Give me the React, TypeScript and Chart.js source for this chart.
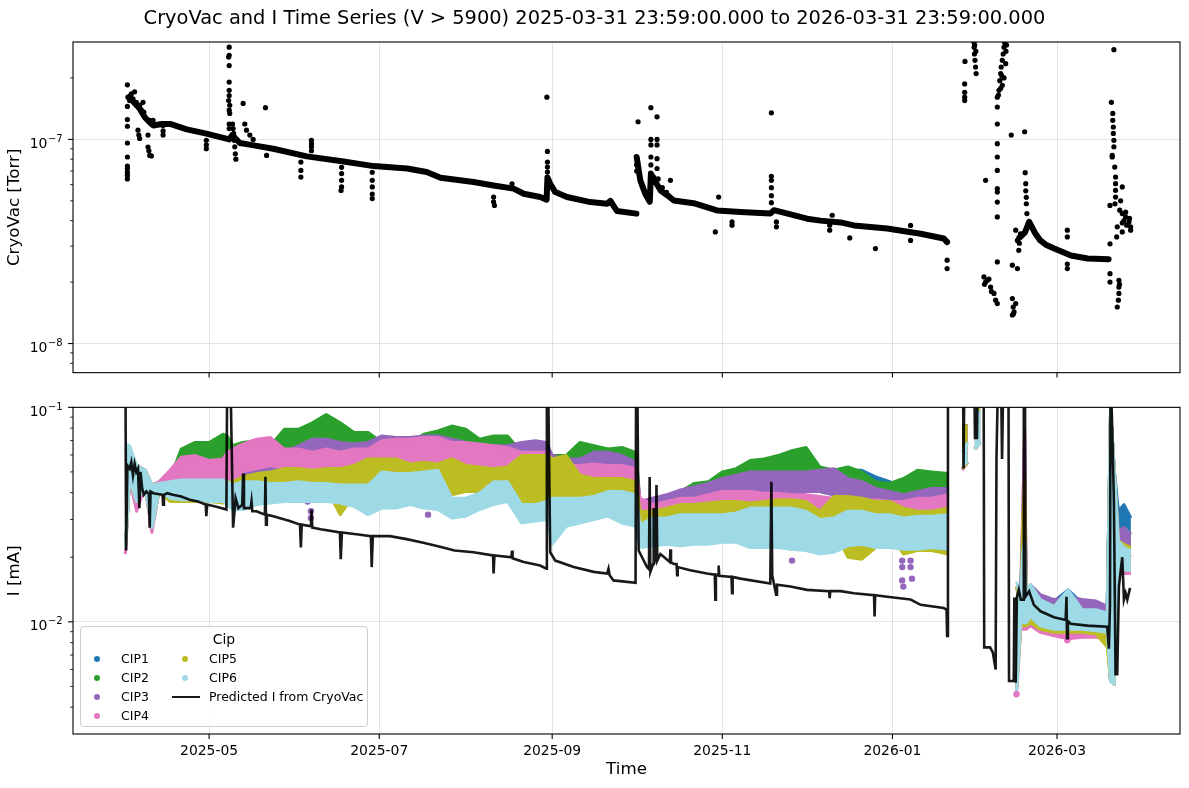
import { useEffect, useRef } from 'react';
import { Chart, registerables } from 'chart.js';

Chart.register(...registerables);

const FONT = "'DejaVu Sans', 'Liberation Sans', sans-serif";
const GRID = 'rgba(0,0,0,0.1)';

// x values: days since 2025-01-01
const X_MIN = 71.2;
const X_MAX = 468.1;
const MONTH_TICKS = [120, 181, 243, 304, 365, 424];
const MONTH_LABELS = ['2025-05', '2025-07', '2025-09', '2025-11', '2026-01', '2026-03'];

const TOP_Y_MIN = 7.2e-9;
const TOP_Y_MAX = 3.0e-7;
const TOP_Y_TICKS = [8e-9, 9e-9, 1e-8, 2e-8, 3e-8, 4e-8, 5e-8, 6e-8, 7e-8, 8e-8, 9e-8, 1e-7, 2e-7];
const BOT_Y_MIN = 3.0e-3;
const BOT_Y_MAX = 0.1;
const BOT_Y_TICKS = [4e-3, 5e-3, 6e-3, 7e-3, 8e-3, 9e-3, 1e-2, 2e-2, 3e-2, 4e-2, 5e-2, 6e-2, 7e-2, 8e-2, 9e-2, 1e-1];

// ---------- CryoVac [Torr] ----------
const CRYO_TREND: [number, number | null][] = [
  [91.5, 1.62e-7], [93, 1.52e-7], [95, 1.42e-7], [97, 1.28e-7], [99, 1.2e-7], [100, 1.17e-7],
  [103, 1.19e-7], [106, 1.19e-7], [112, 1.12e-7], [119, 1.067e-7], [127.2, 1.0e-7], [128.3, 1.05e-7],
  [131, 9.6e-8], [135, 9.4e-8], [143, 9.0e-8], [155, 8.26e-8], [167, 7.83e-8], [179, 7.4e-8],
  [191, 7.2e-8], [198, 6.92e-8], [203, 6.49e-8], [214.8, 6.18e-8], [222, 5.95e-8], [229.2, 5.74e-8],
  [232.8, 5.42e-8], [238.7, 5.22e-8], [241, 5.07e-8], [241.3, 6.5e-8], [242.3, 6.06e-8], [244.1, 5.52e-8],
  [248.3, 5.22e-8], [256.7, 4.93e-8], [262.7, 4.84e-8], [263.9, 5.0e-8], [266.2, 4.46e-8], [273.2, 4.33e-8],
  [273.25, null],
  [273.3, 8.2e-8], [274.6, 6.3e-8], [276.4, 5.4e-8], [278.0, 4.95e-8], [278.4, 6.8e-8], [280, 6.2e-8],
  [282, 5.6e-8], [284.5, 5.3e-8], [286.6, 5.02e-8], [293.7, 4.87e-8], [302.1, 4.49e-8], [310.5, 4.41e-8],
  [321.2, 4.33e-8], [322.5, 4.5e-8], [334.4, 4.09e-8], [339.2, 4.0e-8], [346.4, 3.92e-8], [351.2, 3.79e-8],
  [363.1, 3.66e-8], [375.1, 3.45e-8], [383.4, 3.27e-8], [384.6, 3.14e-8],
  [386, null],
  [410.5, 3.3e-8], [412.5, 3.5e-8], [414, 3.95e-8], [416, 3.5e-8], [418, 3.2e-8], [420, 3.05e-8],
  [423, 2.92e-8], [429, 2.7e-8], [435, 2.61e-8], [442.5, 2.59e-8],
];

const CRYO_PTS: [number, number][] = [
  [90.7, 1.85e-7], [90.7, 1.45e-7], [90.7, 1.25e-7], [90.7, 1.16e-7], [90.7, 9.6e-8], [90.7, 8.2e-8],
  [90.7, 7.4e-8], [90.7, 7.18e-8], [90.7, 6.9e-8], [90.7, 6.67e-8], [90.7, 6.4e-8],
  [90.9, 1.61e-7], [91.5, 1.55e-7], [92.1, 1.67e-7], [93.3, 1.71e-7], [92.7, 1.58e-7], [93.9, 1.52e-7],
  [95.1, 1.47e-7], [96.3, 1.52e-7], [95.7, 1.39e-7], [96.6, 1.36e-7], [94.5, 1.11e-7], [95.1, 1.01e-7],
  [94.8, 1.05e-7], [98.1, 1.05e-7], [98.1, 9.17e-8], [98.7, 8.35e-8], [99.3, 8.3e-8], [98.4, 8.8e-8],
  [98.7, 1.24e-7], [99.9, 1.24e-7], [103.5, 1.05e-7], [103.5, 1.17e-7], [103.5, 1.1e-7],
  [119, 9.9e-8], [119, 9.0e-8], [119, 9.4e-8],
  [127.2, 2.83e-7], [127.2, 2.58e-7], [127.0, 2.53e-7], [127.2, 2.3e-7], [127.2, 1.91e-7], [127.2, 1.74e-7],
  [127.2, 1.64e-7], [127.0, 1.55e-7], [127.4, 1.47e-7], [127.2, 1.39e-7], [127.4, 1.34e-7], [127.2, 1.19e-7],
  [127.2, 1.13e-7], [128.4, 1.19e-7], [128.6, 1.13e-7], [128.8, 1.07e-7], [129.0, 9.9e-8], [129.2, 9.2e-8],
  [129.4, 8.5e-8], [129.6, 8.0e-8],
  [132.2, 1.5e-7], [132.8, 1.19e-7], [133.4, 1.11e-7], [134.6, 1.05e-7], [135.8, 1.0e-7], [140.2, 1.43e-7],
  [140.6, 8.35e-8],
  [152.9, 7.74e-8], [152.9, 7.05e-8], [152.9, 6.54e-8],
  [156.7, 9.9e-8], [156.7, 9.5e-8], [156.7, 9.2e-8], [156.7, 8.8e-8],
  [167.5, 7.3e-8], [167.5, 6.8e-8], [167.5, 6.3e-8], [167.5, 5.85e-8], [167.3, 5.62e-8],
  [178.5, 6.9e-8], [178.5, 6.3e-8], [178.5, 5.85e-8], [178.5, 5.4e-8], [178.5, 5.13e-8],
  [222, 5.22e-8], [222, 4.95e-8], [222.3, 4.75e-8], [228.6, 6.06e-8],
  [241.1, 1.61e-7], [241.3, 8.73e-8], [241.3, 7.74e-8], [241.3, 7.32e-8], [241.3, 6.92e-8],
  [273.8, 1.22e-7], [273.3, 7.5e-8], [273.3, 7.0e-8],
  [278.4, 1.43e-7], [280.6, 1.29e-7], [278.4, 1.0e-7], [280.6, 1.0e-7], [278.4, 9.4e-8], [280.6, 9.4e-8],
  [278.4, 8.2e-8], [280.6, 8.05e-8], [278.4, 7.5e-8], [280.6, 7.2e-8],
  [279.5, 6.5e-8], [281, 6.4e-8], [282.5, 5.8e-8], [284, 5.5e-8], [285.4, 6.3e-8],
  [301.5, 3.52e-8], [302.7, 5.22e-8], [307.5, 3.94e-8], [307.5, 3.8e-8],
  [321.6, 1.35e-7], [321.6, 6.59e-8], [321.6, 6.3e-8], [321.6, 5.8e-8], [321.6, 5.3e-8], [321.6, 4.9e-8],
  [323.4, 3.94e-8], [323.4, 3.73e-8],
  [342.5, 3.59e-8], [342.5, 3.8e-8], [343.4, 4.25e-8], [349.7, 3.29e-8], [358.9, 2.92e-8],
  [371.5, 3.79e-8], [371.5, 3.2e-8], [384.6, 2.56e-8], [384.6, 2.33e-8],
  [391, 2.41e-7], [390.9, 1.87e-7], [390.9, 1.7e-7], [390.9, 1.61e-7], [390.9, 1.55e-7],
  [394.2, 3.0e-7], [394.3, 2.83e-7], [394.4, 2.62e-7], [394.6, 2.44e-7], [394.8, 2.26e-7], [395.0, 2.1e-7],
  [394.5, 2.9e-7], [394.9, 2.7e-7],
  [398.4, 6.3e-8],
  [397.8, 2.12e-8], [399, 2.04e-8], [400.2, 1.89e-8], [401.4, 1.76e-8], [402, 1.63e-8], [402.6, 1.57e-8],
  [398.4, 2.0e-8], [399.6, 2.07e-8], [398.0, 1.95e-8], [400.5, 1.8e-8],
  [402.6, 2.51e-8], [402.6, 4.17e-8], [402.6, 4.93e-8], [402.6, 5.52e-8], [402.6, 5.74e-8], [402.6, 7.05e-8],
  [402.6, 8.2e-8], [402.6, 9.53e-8], [402.6, 1.19e-7], [402.6, 1.44e-7], [402.6, 1.61e-7],
  [403.2, 1.74e-7], [403.5, 1.94e-7], [403.8, 2.1e-7], [404.0, 2.26e-7], [404.4, 2.44e-7], [404.7, 2.62e-7],
  [405.0, 2.83e-7], [405.2, 2.98e-7], [405.7, 2.7e-7], [405.9, 2.9e-7], [404.4, 1.84e-7], [405.0, 2.0e-7],
  [405.6, 2.35e-7], [403.8, 1.78e-7], [403.0, 1.65e-7], [404.2, 2.05e-7],
  [407.6, 1.05e-7], [412.4, 1.09e-7],
  [408, 1.66e-8], [408.3, 1.51e-8], [408.6, 1.43e-8], [408.0, 1.38e-8], [409.2, 1.57e-8], [408.4, 1.4e-8],
  [408, 2.42e-8], [409.8, 2.33e-8],
  [412.6, 6.87e-8], [412.8, 6.07e-8], [412.8, 5.6e-8], [413, 5.2e-8], [413, 4.84e-8], [413.2, 4.33e-8],
  [409.2, 3.59e-8], [409.8, 3.2e-8], [410.3, 2.86e-8], [410.9, 3.45e-8], [410.5, 3.1e-8],
  [427.7, 3.59e-8], [427.7, 3.33e-8], [427.7, 2.33e-8], [427.7, 2.45e-8],
  [444.4, 2.75e-7], [443.5, 1.52e-7], [444.0, 1.34e-7], [444.0, 1.24e-7], [444.2, 1.15e-7], [444.2, 1.07e-7],
  [444.4, 9.9e-8], [444.4, 9.2e-8], [443.8, 8.35e-8], [443.8, 8.2e-8], [444.7, 7.32e-8], [445.0, 6.54e-8],
  [445.0, 6.07e-8], [445.0, 5.63e-8], [445.0, 5.22e-8], [444.8, 4.84e-8], [443.0, 4.75e-8], [447.4, 5.85e-8],
  [447.4, 4.33e-8], [447.4, 3.9e-8], [447.4, 3.52e-8], [448.6, 4.17e-8], [449.8, 3.94e-8], [450.4, 3.73e-8],
  [450.4, 3.59e-8], [445.6, 3.73e-8], [445.4, 3.33e-8], [443.0, 3.08e-8], [443.0, 2.2e-8], [443.0, 2.0e-8],
  [446.2, 2.04e-8], [446.2, 1.89e-8], [446.2, 1.76e-8], [446.0, 1.63e-8], [445.6, 1.51e-8], [446.4, 1.95e-8],
  [448.0, 4.0e-8], [449, 3.8e-8], [448.6, 4.4e-8], [450, 4.1e-8], [446.5, 4.5e-8], [446.8, 5.0e-8],
];

// ---------- I [mA] : CIP bands (low / high edge per sample day) ----------
const CIP_DAYS = [
  90, 91.5, 94, 97, 99.5, 102, 106, 110, 115, 120,
  125, 126.5, 128.5, 132, 137, 142, 147, 152, 157, 162,
  167, 172, 177, 182, 187, 192, 197, 202, 207, 212,
  217, 222, 227, 232, 237, 241, 243, 248, 253, 258,
  263, 268, 273, 274.5, 279, 284, 289, 294, 299, 304,
  309, 314, 319, 324, 329, 334, 339, 344, 349, 354,
  359, 364, 369, 374, 379, 385, 387, 390, 392, 393,
  394.5, 396.5, 400, 409.5, 411, 411.8, 412.4, 413, 414.5, 418,
  423, 428, 433, 438, 442, 443.2, 444.5, 446, 448, 450.5,
];

const CIP1_HI = [
  0.0639, 0.0617, 0.0536, 0.0509, 0.0434, 0.0442, 0.0466, 0.0500, 0.0527, 0.0518,
  0.0509, 0.0518, 0.0518, 0.0536, 0.0536, 0.0555, 0.0575, 0.0575, 0.0596, 0.0617,
  0.0596, 0.0617, 0.0662, 0.0710, 0.0686, 0.0686, 0.0686, 0.0686, 0.0686, 0.0662,
  0.0639, 0.0639, 0.0639, 0.0555, 0.0575, 0.0575, 0.0575, 0.0555, 0.0555, 0.0575,
  0.0606, 0.0575, 0.0536, 0.0364, 0.0364, 0.0377, 0.0405, 0.0419, 0.0434, 0.0458,
  0.0474, 0.0491, 0.0500, 0.0509, 0.0500, 0.0500, 0.0500, 0.0500, 0.0509, 0.0509,
  0.0474, 0.0450, 0.0419, 0.0405, 0.0405, 0.0405, null, 0.0818, 0.0818, null,
  0.105, 0.105, null, 0.0146, 0.0136, 0.0305, 0.0434, 0.0136, 0.0146, 0.0131,
  0.0125, 0.0141, 0.0122, 0.0122, 0.0118, 0.0976, 0.0518, 0.0328, 0.0352, 0.0305,
];
const CIP1_LO = [
  0.0222, 0.0466, 0.0364, 0.0427, 0.0275, 0.0405, 0.0419, 0.0434, 0.0450, 0.0450,
  0.0450, 0.0450, 0.0434, 0.0450, 0.0450, 0.0466, 0.0466, 0.0466, 0.0482, 0.0482,
  0.0482, 0.0500, 0.0518, 0.0555, 0.0555, 0.0555, 0.0555, 0.0555, 0.0536, 0.0536,
  0.0518, 0.0518, 0.0518, 0.0405, 0.0419, 0.0434, 0.0419, 0.0434, 0.0434, 0.0450,
  0.0466, 0.0450, 0.0419, 0.0305, 0.0305, 0.0316, 0.0339, 0.0352, 0.0364, 0.0377,
  0.0384, 0.0391, 0.0391, 0.0405, 0.0405, 0.0405, 0.0405, 0.0391, 0.0405, 0.0405,
  0.0377, 0.0364, 0.0352, 0.0352, 0.0352, 0.0339, null, 0.0518, 0.0555, null,
  0.0639, 0.0686, null, 0.00494, 0.0106, 0.0106, 0.0106, 0.0106, 0.0110, 0.0103,
  0.00991, 0.00991, 0.00991, 0.00975, 0.00894, 0.00530, 0.00512, 0.0222, 0.0222, 0.0215,
];
const CIP2_HI = [
  0.0639, 0.0617, 0.0536, 0.0509, 0.0434, 0.0442, 0.0466, 0.0639, 0.0686, 0.0686,
  0.0749, 0.0736, 0.0662, 0.0686, 0.0698, 0.0662, 0.0790, 0.0790, 0.0847, 0.0925,
  0.0847, 0.0763, 0.0763, 0.0686, 0.0686, 0.0686, 0.0749, 0.0776, 0.0818, 0.0790,
  0.0710, 0.0736, 0.0736, 0.0617, 0.0686, 0.0662, 0.0596, 0.0596, 0.0686, 0.0662,
  0.0639, 0.0650, 0.0617, 0.0364, 0.0364, 0.0377, 0.0405, 0.0442, 0.0450, 0.0500,
  0.0518, 0.0565, 0.0575, 0.0596, 0.0628, 0.0650, 0.0527, 0.0509, 0.0527, 0.0500,
  0.0450, 0.0442, 0.0466, 0.0509, 0.0500, 0.0491, null, 0.0818, 0.0818, null,
  0.105, 0.105, null, 0.0146, 0.0131, 0.0305, 0.0434, 0.0131, 0.0141, 0.0127,
  0.0118, 0.0118, 0.0114, 0.0122, 0.0118, 0.0976, 0.0518, 0.0256, 0.0275, 0.0256,
];
const CIP2_LO = [
  0.0222, 0.0466, 0.0364, 0.0427, 0.0275, 0.0405, 0.0419, 0.0518, 0.0518, 0.0536,
  0.0555, 0.0555, 0.0518, 0.0555, 0.0575, 0.0575, 0.0617, 0.0617, 0.0639, 0.0662,
  0.0639, 0.0617, 0.0596, 0.0575, 0.0575, 0.0500, 0.0575, 0.0575, 0.0617, 0.0617,
  0.0596, 0.0596, 0.0596, 0.0364, 0.0364, 0.0434, 0.0434, 0.0466, 0.0518, 0.0518,
  0.0518, 0.0518, 0.0466, 0.0305, 0.0305, 0.0316, 0.0339, 0.0364, 0.0377, 0.0391,
  0.0405, 0.0434, 0.0434, 0.0450, 0.0466, 0.0466, 0.0419, 0.0405, 0.0405, 0.0391,
  0.0377, 0.0364, 0.0364, 0.0391, 0.0391, 0.0377, null, 0.0518, 0.0555, null,
  0.0639, 0.0686, null, 0.00494, 0.00958, 0.00958, 0.00958, 0.00958, 0.0103, 0.00958,
  0.00924, 0.00894, 0.00878, 0.00878, 0.00862, 0.00530, 0.00512, 0.0207, 0.0207, 0.0200,
];
const CIP3_HI = [
  0.0639, 0.0617, 0.0536, 0.0509, 0.0434, 0.0442, 0.0474, 0.0474, 0.0518, 0.0500,
  0.0500, 0.0518, 0.0518, 0.0555, 0.0565, 0.0596, 0.0617, 0.0662, 0.0710, 0.0710,
  0.0686, 0.0674, 0.0686, 0.0736, 0.0723, 0.0723, 0.0736, 0.0736, 0.0710, 0.0686,
  0.0662, 0.0662, 0.0662, 0.0686, 0.0698, 0.0686, 0.0596, 0.0575, 0.0575, 0.0617,
  0.0617, 0.0596, 0.0555, 0.0364, 0.0377, 0.0391, 0.0412, 0.0427, 0.0442, 0.0466,
  0.0482, 0.0500, 0.0500, 0.0500, 0.0500, 0.0500, 0.0509, 0.0518, 0.0466, 0.0450,
  0.0419, 0.0405, 0.0391, 0.0405, 0.0419, 0.0419, null, 0.0818, 0.0818, null,
  0.105, 0.105, null, 0.0146, 0.0139, 0.0364, 0.0736, 0.0136, 0.0149, 0.0134,
  0.0127, 0.0131, 0.0127, 0.0125, 0.0118, 0.0976, 0.0518, 0.0265, 0.0275, 0.0256,
];
const CIP3_LO = [
  0.0222, 0.0466, 0.0364, 0.0427, 0.0275, 0.0405, 0.0427, 0.0434, 0.0434, 0.0434,
  0.0450, 0.0450, 0.0434, 0.0450, 0.0458, 0.0482, 0.0482, 0.0518, 0.0536, 0.0555,
  0.0536, 0.0536, 0.0555, 0.0575, 0.0575, 0.0575, 0.0575, 0.0596, 0.0575, 0.0555,
  0.0536, 0.0536, 0.0536, 0.0536, 0.0555, 0.0536, 0.0466, 0.0482, 0.0482, 0.0500,
  0.0500, 0.0482, 0.0419, 0.0305, 0.0316, 0.0328, 0.0352, 0.0364, 0.0364, 0.0377,
  0.0391, 0.0391, 0.0391, 0.0405, 0.0364, 0.0405, 0.0405, 0.0391, 0.0364, 0.0352,
  0.0352, 0.0352, 0.0339, 0.0339, 0.0352, 0.0339, null, 0.0518, 0.0555, null,
  0.0639, 0.0686, null, 0.00494, 0.0110, 0.0110, 0.0110, 0.0110, 0.0114, 0.0106,
  0.0103, 0.0103, 0.00991, 0.00991, 0.00894, 0.00530, 0.00512, 0.0207, 0.0207, 0.0200,
];
const CIP4_HI = [
  0.0639, 0.0617, 0.0536, 0.0509, 0.0434, 0.0450, 0.0509, 0.0585, 0.0596, 0.0565,
  0.0575, 0.0617, 0.0639, 0.0674, 0.0710, 0.0723, 0.0639, 0.0639, 0.0617, 0.0639,
  0.0617, 0.0639, 0.0639, 0.0698, 0.0710, 0.0710, 0.0723, 0.0723, 0.0686, 0.0686,
  0.0674, 0.0662, 0.0650, 0.0617, 0.0617, 0.0617, 0.0575, 0.0536, 0.0536, 0.0545,
  0.0536, 0.0536, 0.0518, 0.0377, 0.0352, 0.0364, 0.0377, 0.0377, 0.0391, 0.0405,
  0.0405, 0.0405, 0.0398, 0.0398, 0.0391, 0.0391, 0.0384, 0.0377, 0.0364, 0.0364,
  0.0371, 0.0364, 0.0364, 0.0377, 0.0377, 0.0391, null, 0.0790, 0.0818, null,
  0.105, 0.105, null, 0.0146, 0.0110, 0.0364, 0.0790, 0.0110, 0.0127, 0.0106,
  0.00991, 0.00958, 0.00924, 0.00924, 0.00924, 0.0976, 0.0518, 0.0215, 0.0207, 0.0207,
];
const CIP4_LO = [
  0.0207, 0.0466, 0.0328, 0.0427, 0.0261, 0.0405, 0.0419, 0.0450, 0.0466, 0.0466,
  0.0466, 0.0466, 0.0450, 0.0500, 0.0518, 0.0536, 0.0518, 0.0500, 0.0482, 0.0482,
  0.0450, 0.0500, 0.0518, 0.0555, 0.0555, 0.0555, 0.0555, 0.0555, 0.0518, 0.0518,
  0.0518, 0.0518, 0.0518, 0.0450, 0.0450, 0.0466, 0.0419, 0.0419, 0.0419, 0.0419,
  0.0419, 0.0419, 0.0405, 0.0316, 0.0295, 0.0305, 0.0316, 0.0316, 0.0316, 0.0328,
  0.0328, 0.0328, 0.0316, 0.0328, 0.0328, 0.0328, 0.0328, 0.0328, 0.0316, 0.0305,
  0.0305, 0.0305, 0.0305, 0.0305, 0.0305, 0.0295, null, 0.0509, 0.0555, null,
  0.0639, 0.0686, null, 0.00461, 0.00924, 0.00924, 0.00924, 0.00924, 0.00958, 0.00894,
  0.00862, 0.00834, 0.00848, 0.00848, 0.00834, 0.00530, 0.00512, 0.0168, 0.0168, 0.0168,
];
const CIP5_HI = [
  0.0639, 0.0617, 0.0536, 0.0509, 0.0434, 0.0442, 0.0434, 0.0405, 0.0405, 0.0405,
  0.0391, 0.0450, 0.0450, 0.0474, 0.0491, 0.0500, 0.0518, 0.0518, 0.0509, 0.0518,
  0.0518, 0.0536, 0.0575, 0.0575, 0.0575, 0.0545, 0.0555, 0.0545, 0.0575, 0.0536,
  0.0527, 0.0518, 0.0527, 0.0596, 0.0596, 0.0596, 0.0575, 0.0596, 0.0482, 0.0466,
  0.0466, 0.0466, 0.0450, 0.0328, 0.0328, 0.0339, 0.0352, 0.0352, 0.0358, 0.0364,
  0.0364, 0.0358, 0.0364, 0.0371, 0.0371, 0.0364, 0.0328, 0.0384, 0.0384, 0.0377,
  0.0364, 0.0364, 0.0339, 0.0328, 0.0328, 0.0339, null, 0.0818, 0.0818, null,
  0.105, 0.105, null, 0.0146, 0.0118, 0.0305, 0.0466, 0.0118, 0.0136, 0.0118,
  0.0110, 0.0110, 0.0106, 0.0110, 0.0103, 0.0976, 0.0518, 0.0239, 0.0230, 0.0222,
];
const CIP5_LO = [
  0.0222, 0.0466, 0.0364, 0.0427, 0.0275, 0.0405, 0.0364, 0.0364, 0.0364, 0.0364,
  0.0358, 0.0364, 0.0364, 0.0405, 0.0412, 0.0419, 0.0434, 0.0434, 0.0364, 0.0419,
  0.0316, 0.0391, 0.0405, 0.0419, 0.0434, 0.0419, 0.0405, 0.0391, 0.0391, 0.0405,
  0.0405, 0.0419, 0.0405, 0.0364, 0.0364, 0.0364, 0.0364, 0.0391, 0.0339, 0.0339,
  0.0364, 0.0339, 0.0328, 0.0275, 0.0265, 0.0265, 0.0265, 0.0265, 0.0275, 0.0275,
  0.0265, 0.0256, 0.0261, 0.0275, 0.0284, 0.0284, 0.0275, 0.0275, 0.0200, 0.0196,
  0.0222, 0.0256, 0.0207, 0.0215, 0.0215, 0.0207, null, 0.0518, 0.0555, null,
  0.0639, 0.0686, null, 0.00494, 0.00958, 0.00958, 0.00958, 0.00958, 0.00991, 0.00924,
  0.00894, 0.00894, 0.00894, 0.00878, 0.00764, 0.00530, 0.00512, 0.0174, 0.0174, 0.0174,
];
const CIP6_HI = [
  0.0674, 0.0662, 0.0536, 0.0509, 0.0434, 0.0442, 0.0450, 0.0458, 0.0458, 0.0458,
  0.0458, 0.0450, 0.0434, 0.0450, 0.0450, 0.0442, 0.0442, 0.0450, 0.0442, 0.0442,
  0.0434, 0.0434, 0.0434, 0.0500, 0.0491, 0.0491, 0.0500, 0.0509, 0.0377, 0.0377,
  0.0398, 0.0450, 0.0450, 0.0352, 0.0352, 0.0364, 0.0377, 0.0377, 0.0377, 0.0384,
  0.0405, 0.0405, 0.0391, 0.0284, 0.0305, 0.0305, 0.0316, 0.0316, 0.0316, 0.0316,
  0.0322, 0.0339, 0.0339, 0.0339, 0.0339, 0.0328, 0.0300, 0.0305, 0.0328, 0.0328,
  0.0316, 0.0316, 0.0305, 0.0311, 0.0311, 0.0316, null, 0.0617, 0.0686, null,
  0.0976, 0.0942, null, 0.0154, 0.0131, 0.0215, 0.0239, 0.0136, 0.0149, 0.0127,
  0.0118, 0.0141, 0.0114, 0.0114, 0.0110, 0.0976, 0.0518, 0.0239, 0.0222, 0.0215,
];
const CIP6_LO = [
  0.0222, 0.0466, 0.0364, 0.0427, 0.0275, 0.0405, 0.0377, 0.0371, 0.0371, 0.0364,
  0.0364, 0.0352, 0.0334, 0.0334, 0.0352, 0.0358, 0.0364, 0.0364, 0.0364, 0.0364,
  0.0358, 0.0345, 0.0316, 0.0339, 0.0339, 0.0352, 0.0339, 0.0334, 0.0305, 0.0311,
  0.0334, 0.0352, 0.0364, 0.0289, 0.0295, 0.0300, 0.0230, 0.0279, 0.0289, 0.0300,
  0.0311, 0.0289, 0.0279, 0.0222, 0.0226, 0.0230, 0.0226, 0.0230, 0.0230, 0.0235,
  0.0235, 0.0222, 0.0222, 0.0222, 0.0218, 0.0215, 0.0207, 0.0211, 0.0226, 0.0230,
  0.0222, 0.0222, 0.0218, 0.0218, 0.0222, 0.0218, null, 0.0536, 0.0555, null,
  0.0639, 0.0686, null, 0.00477, 0.00991, 0.00991, 0.00991, 0.00991, 0.0106, 0.00958,
  0.00924, 0.00924, 0.00924, 0.00909, 0.00894, 0.00530, 0.00512, 0.0180, 0.0174, 0.0174,
];

const CIP3_OUTLIERS: [number, number][] = [
  [155.3, 0.0377], [155.3, 0.0364], [156.5, 0.0328], [156.5, 0.0305], [198.5, 0.0316],
  [329.0, 0.0247], [329.0, 0.0222], [329.0, 0.0193], [368.5, 0.0193], [368.5, 0.0180],
  [368.5, 0.0156], [368.9, 0.0146], [371.5, 0.0193], [371.5, 0.0180], [372.0, 0.0159],
];
const CIP4_OUTLIERS: [number, number][] = [[314.1, 0.0239], [427.7, 0.0082], [409.5, 0.0046]];

const PRED_I: [number, number][] = [
  [90.0, 0.15], [90.25, 0.0215], [90.7, 0.0536], [91.5, 0.0518], [92.1, 0.0555], [92.7, 0.0482],
  [93.3, 0.0545], [93.9, 0.0500], [94.5, 0.0518], [95.0, 0.0339], [95.4, 0.0500], [96.0, 0.0419],
  [96.6, 0.0391], [97.5, 0.0405], [98.4, 0.0395], [98.7, 0.0275], [99.0, 0.0405], [100.0, 0.0398],
  [103.3, 0.0391], [103.5, 0.0352], [103.8, 0.0391], [105.0, 0.0398], [107.0, 0.0391], [110.0, 0.0384],
  [113.0, 0.0371], [116.0, 0.0364], [118.8, 0.0352], [119.0, 0.0311], [119.3, 0.0352], [123.0, 0.0343],
  [126.2, 0.0334], [126.5, 0.15], [127.6, 0.15], [128.6, 0.0275], [129.5, 0.0377], [130.5, 0.0339],
  [131.9, 0.0352], [132.2, 0.0491], [132.5, 0.0339], [134.9, 0.0339], [135.2, 0.0364], [135.5, 0.0328],
  [137.0, 0.0328], [140.0, 0.0316], [140.2, 0.0474], [140.4, 0.0284], [140.7, 0.0316], [143.0, 0.0311],
  [148.9, 0.0295], [152.6, 0.0284], [152.9, 0.0222], [153.2, 0.0284], [156.5, 0.0279], [156.7, 0.0334],
  [157.0, 0.0275], [160.0, 0.0270], [166.9, 0.0261], [167.2, 0.0196], [167.6, 0.0261], [172.8, 0.0256],
  [178.0, 0.0251], [178.3, 0.0180], [178.7, 0.0251], [184.8, 0.0251], [190.8, 0.0243], [196.8, 0.0234],
  [202.8, 0.0224], [208.0, 0.0215], [214.8, 0.0211], [221.8, 0.0204], [222.0, 0.0168], [222.3, 0.0204],
  [228.4, 0.0200], [228.6, 0.0215], [228.8, 0.0198], [232.8, 0.0190], [238.7, 0.0183], [240.9, 0.0177],
  [241.1, 0.15], [241.5, 0.15], [242.3, 0.0211], [244.1, 0.0193], [250.7, 0.0180], [257.9, 0.0171],
  [262.7, 0.0168], [263.2, 0.0177], [263.6, 0.0165], [265.0, 0.0156], [272.9, 0.0152], [273.1, 0.15],
  [273.5, 0.15], [274.0, 0.0215], [277.0, 0.0180], [277.7, 0.0176], [277.95, 0.0474], [278.2, 0.0171],
  [279.2, 0.0186], [279.4, 0.0339], [279.6, 0.0186], [279.9, 0.0300], [280.1, 0.0190], [280.4, 0.0434],
  [280.7, 0.0193], [281.8, 0.0207], [285.2, 0.0190], [285.4, 0.0218], [285.6, 0.0190], [286.6, 0.0186],
  [287.6, 0.0186], [287.8, 0.0165], [288.0, 0.0180], [292.5, 0.0174], [298.5, 0.0168], [301.3, 0.0166],
  [301.5, 0.0127], [301.7, 0.0166], [302.5, 0.0165], [302.7, 0.0183], [302.9, 0.0164], [307.3, 0.0162],
  [307.5, 0.0136], [307.7, 0.0162], [310.5, 0.0159], [321.2, 0.0151], [321.6, 0.0450], [321.9, 0.0165],
  [323.3, 0.0134], [323.6, 0.0149], [328.4, 0.0146], [334.4, 0.0141], [342.3, 0.0139], [342.5, 0.0129],
  [342.7, 0.0139], [346.4, 0.0139], [351.2, 0.0136], [358.4, 0.0133], [358.6, 0.0106], [358.8, 0.0133],
  [363.1, 0.0131], [371.5, 0.0127], [375.1, 0.0120], [383.4, 0.0116], [384.4, 0.0114], [384.6, 0.0086],
  [384.9, 0.15], [390.3, 0.15], [390.5, 0.0518], [390.8, 0.15], [394.3, 0.15], [394.6, 0.0710],
  [395.0, 0.0900], [395.3, 0.0710], [395.6, 0.15], [397.7, 0.15], [397.9, 0.0076], [400.0, 0.0076],
  [401.0, 0.0072], [402.0, 0.0060], [402.3, 0.0575], [402.9, 0.15], [403.9, 0.15], [404.3, 0.0575],
  [404.8, 0.15], [406.6, 0.15], [406.8, 0.0053], [408.5, 0.0053], [408.7, 0.0130], [409.2, 0.0052],
  [409.6, 0.0130], [410.3, 0.0141], [411.0, 0.0127], [412.0, 0.0127], [412.1, 0.15], [412.5, 0.15],
  [412.7, 0.0131], [414.0, 0.0139], [415.7, 0.0120], [418.1, 0.0112], [422.9, 0.0105], [427.1, 0.0102],
  [427.4, 0.0131], [427.6, 0.0084], [427.9, 0.0101], [428.9, 0.0098], [434.9, 0.0096], [442.0, 0.0095],
  [442.6, 0.0075], [443.0, 0.0120], [443.2, 0.15], [443.8, 0.0790], [444.4, 0.0364], [445.0, 0.0057],
  [445.6, 0.0057], [446.2, 0.0146], [447.4, 0.0200], [448.0, 0.0127], [448.6, 0.0136], [449.2, 0.0127],
  [450.2, 0.0144],
];

const CIP_NAMES = ['CIP1', 'CIP2', 'CIP3', 'CIP4', 'CIP5', 'CIP6'];
const CIP_COLORS = ['#1f77b4', '#2ca02c', '#9467bd', '#e377c2', '#bcbd22', '#9edae5'];
const CIP_LO = [CIP1_LO, CIP2_LO, CIP3_LO, CIP4_LO, CIP5_LO, CIP6_LO];
const CIP_HI = [CIP1_HI, CIP2_HI, CIP3_HI, CIP4_HI, CIP5_HI, CIP6_HI];
const PRED_LABEL = 'Predicted I from CryoVac';
const PRED_COLOR = 'rgba(0,0,0,0.9)';

// ---------- helpers ----------
const isPow10 = (v: number) => Math.abs(Math.log10(v) - Math.round(Math.log10(v))) < 1e-6;
const expText = (v: number) => String(Math.round(Math.log10(v))).replace('-', '\u2212');
const toXY = (arr: [number, number | null][]) => arr.map(([x, y]) => ({ x, y }));
const bandXY = (ys: (number | null)[]) => CIP_DAYS.map((x, i) => ({ x, y: ys[i] }));

const axisDecor = {
  id: 'axisDecor',
  afterDraw(chart: any) {
    const { ctx, chartArea: a, scales } = chart;
    ctx.save();
    ctx.strokeStyle = '#000';
    ctx.lineWidth = 1.1;
    ctx.beginPath();
    const xs = scales.x;
    xs.ticks.forEach((t: any) => {
      const p = xs.getPixelForValue(t.value);
      ctx.moveTo(p, a.bottom);
      ctx.lineTo(p, a.bottom + 4.9);
    });
    ctx.stroke();
    const ys = scales.y;
    ys.ticks.forEach((t: any) => {
      const p = ys.getPixelForValue(t.value);
      const major = isPow10(t.value);
      ctx.beginPath();
      ctx.lineWidth = major ? 1.1 : 0.85;
      ctx.moveTo(a.left, p);
      ctx.lineTo(a.left - (major ? 4.9 : 2.8), p);
      ctx.stroke();
      if (major) {
        // "10" with a raised exponent, like mathtext
        const exp = expText(t.value);
        const right = a.left - 10.3;
        ctx.fillStyle = '#000';
        ctx.textAlign = 'left';
        ctx.textBaseline = 'alphabetic';
        ctx.font = `10px ${FONT}`;
        const we = ctx.measureText(exp).width;
        ctx.font = `13.9px ${FONT}`;
        const wb = ctx.measureText('10').width;
        ctx.fillText('10', right - we - wb - 0.5, p + 8.2);
        ctx.font = `10px ${FONT}`;
        ctx.fillText(exp, right - we, p + 2.5);
      }
    });
    ctx.lineWidth = 1.1;
    ctx.strokeRect(a.left, a.top, a.right - a.left, a.bottom - a.top);
    ctx.restore();
  },
};

function makeOptions(p: {
  yMin: number; yMax: number; yTicks: number[]; yTitle: string; xLabels: boolean; padTop: number; xHeight: number;
}): any {
  return {
    responsive: false,
    animation: false,
    events: [],
    layout: { padding: { top: p.padTop, right: 9, left: 0, bottom: 0 } },
    plugins: { legend: { display: false }, tooltip: { enabled: false }, title: { display: false } },
    scales: {
      x: {
        type: 'linear',
        min: X_MIN,
        max: X_MAX,
        bounds: 'data',
        afterBuildTicks: (s: any) => { s.ticks = MONTH_TICKS.map((v) => ({ value: v })); },
        afterFit: (s: any) => { s.height = p.xHeight; },
        grid: { color: GRID, lineWidth: 1, drawTicks: false },
        border: { display: false },
        ticks: {
          autoSkip: false, maxRotation: 0, minRotation: 0, padding: 9, color: '#000',
          font: { family: FONT, size: 13.9 },
          callback: (v: any) => (p.xLabels ? (MONTH_LABELS[MONTH_TICKS.indexOf(Number(v))] ?? '') : ''),
        },
        title: p.xLabels
          ? { display: true, text: 'Time', color: '#000', font: { family: FONT, size: 16.7 }, padding: { top: 0, bottom: 8 } }
          : { display: false },
      },
      y: {
        type: 'logarithmic',
        min: p.yMin,
        max: p.yMax,
        bounds: 'data',
        afterBuildTicks: (s: any) => {
          s.ticks = p.yTicks.filter((v) => v >= p.yMin && v <= p.yMax).map((v) => ({ value: v }));
        },
        afterFit: (s: any) => { s.width = 73; },
        grid: {
          color: (c: any) => (c.tick && isPow10(c.tick.value) ? GRID : 'rgba(0,0,0,0)'),
          lineWidth: 1,
          drawTicks: false,
        },
        border: { display: false },
        ticks: {
          autoSkip: false, padding: 9, color: '#000', font: { family: FONT, size: 13.9 },
          callback: () => '',
        },
        title: { display: true, text: p.yTitle, color: '#000', font: { family: FONT, size: 16.7 }, padding: { top: 5, bottom: 0 } },
      },
    },
  };
}

function Legend() {
  const entries = [
    ...CIP_NAMES.map((n, i) => ({ label: n, color: CIP_COLORS[i], line: false })),
    { label: PRED_LABEL, color: PRED_COLOR, line: true },
  ];
  return (
    <div
      style={{
        position: 'absolute', left: 80, top: 626, width: 288, height: 101, boxSizing: 'border-box',
        border: '1px solid #cccccc', borderRadius: 4, background: 'rgba(255,255,255,0.8)',
        fontFamily: FONT, color: '#000',
      }}
    >
      <div style={{ position: 'absolute', left: 0, top: 3, width: 286, textAlign: 'center', fontSize: 13.9, lineHeight: '18px' }}>
        Cip
      </div>
      {entries.map((e, i) => {
        const col = i < 4 ? 0 : 1;
        const row = i % 4;
        const cy = 32 + row * 19;
        const mx = col === 0 ? 16 : 104;
        const tx = col === 0 ? 40 : 128;
        return (
          <div key={e.label}>
            {e.line ? (
              <div style={{ position: 'absolute', left: mx - 13, top: cy - 1.4, width: 28, height: 2.8, background: e.color }} />
            ) : (
              <div style={{ position: 'absolute', left: mx - 3, top: cy - 3, width: 6, height: 6, borderRadius: '50%', background: e.color }} />
            )}
            <div style={{ position: 'absolute', left: tx, top: cy - 8, height: 16, lineHeight: '16px', fontSize: 12.5, whiteSpace: 'nowrap' }}>
              {e.label}
            </div>
          </div>
        );
      })}
    </div>
  );
}

export default function App() {
  const topRef = useRef<HTMLCanvasElement>(null);
  const botRef = useRef<HTMLCanvasElement>(null);

  useEffect(() => {
    Chart.defaults.font.family = FONT;
    Chart.defaults.color = '#000';

    const topChart = new Chart(topRef.current as HTMLCanvasElement, {
      type: 'line',
      data: {
        datasets: [
          {
            label: 'CryoVac',
            data: toXY(CRYO_TREND),
            borderColor: '#000',
            backgroundColor: '#000',
            borderWidth: 6,
            borderJoinStyle: 'round',
            borderCapStyle: 'round',
            pointRadius: 0,
            spanGaps: false,
            tension: 0,
            clip: 0,
          },
          {
            type: 'scatter',
            label: 'CryoVac samples',
            data: toXY(CRYO_PTS),
            backgroundColor: '#000',
            borderWidth: 0,
            pointRadius: 2.6,
            clip: 0,
          },
        ],
      } as any,
      options: makeOptions({
        yMin: TOP_Y_MIN, yMax: TOP_Y_MAX, yTicks: TOP_Y_TICKS, yTitle: 'CryoVac [Torr]',
        xLabels: false, padTop: 42, xHeight: 17,
      }),
      plugins: [axisDecor],
    });

    const datasets: any[] = [
      {
        label: PRED_LABEL,
        data: toXY(PRED_I),
        borderColor: PRED_COLOR,
        borderWidth: 2.6,
        pointRadius: 0,
        tension: 0,
        fill: false,
        order: 0,
        clip: 0,
      },
    ];
    CIP_NAMES.forEach((name, i) => {
      const order = 6 - i;
      datasets.push({
        label: name + ' low',
        data: bandXY(CIP_LO[i]),
        borderColor: CIP_COLORS[i],
        borderWidth: 3,
        borderJoinStyle: 'round',
        pointRadius: 0,
        tension: 0,
        spanGaps: false,
        fill: false,
        order,
        clip: 0,
      });
      datasets.push({
        label: name,
        data: bandXY(CIP_HI[i]),
        borderColor: CIP_COLORS[i],
        backgroundColor: CIP_COLORS[i],
        borderWidth: 3,
        borderJoinStyle: 'round',
        pointRadius: 0,
        tension: 0,
        spanGaps: false,
        fill: '-1',
        order,
        clip: 0,
      });
    });
    datasets.push({
      type: 'scatter', label: 'CIP3 outliers', data: toXY(CIP3_OUTLIERS),
      backgroundColor: CIP_COLORS[2], borderWidth: 0, pointRadius: 3.2, order: 4, clip: 0,
    });
    datasets.push({
      type: 'scatter', label: 'CIP4 outliers', data: toXY(CIP4_OUTLIERS),
      backgroundColor: CIP_COLORS[3], borderWidth: 0, pointRadius: 3.2, order: 3, clip: 0,
    });

    const botChart = new Chart(botRef.current as HTMLCanvasElement, {
      type: 'line',
      data: { datasets } as any,
      options: makeOptions({
        yMin: BOT_Y_MIN, yMax: BOT_Y_MAX, yTicks: BOT_Y_TICKS, yTitle: 'I [mA]',
        xLabels: true, padTop: 12, xHeight: 54,
      }),
      plugins: [axisDecor],
    });

    return () => {
      topChart.destroy();
      botChart.destroy();
    };
  }, []);

  return (
    <div style={{ position: 'absolute', left: 0, top: 0, width: 1189, height: 788, background: '#fff', fontFamily: FONT }}>
      <canvas ref={topRef} width={1189} height={390} style={{ position: 'absolute', left: 0, top: 0 }} />
      <canvas ref={botRef} width={1189} height={398} style={{ position: 'absolute', left: 0, top: 390 }} />
      <div
        style={{
          position: 'absolute', left: 0, top: 6, width: 1189, textAlign: 'center', fontSize: 19.4,
          lineHeight: '24px', color: '#000', whiteSpace: 'nowrap',
        }}
      >
        CryoVac and I Time Series (V &gt; 5900) 2025-03-31 23:59:00.000 to 2026-03-31 23:59:00.000
      </div>
      <Legend />
    </div>
  );
}
